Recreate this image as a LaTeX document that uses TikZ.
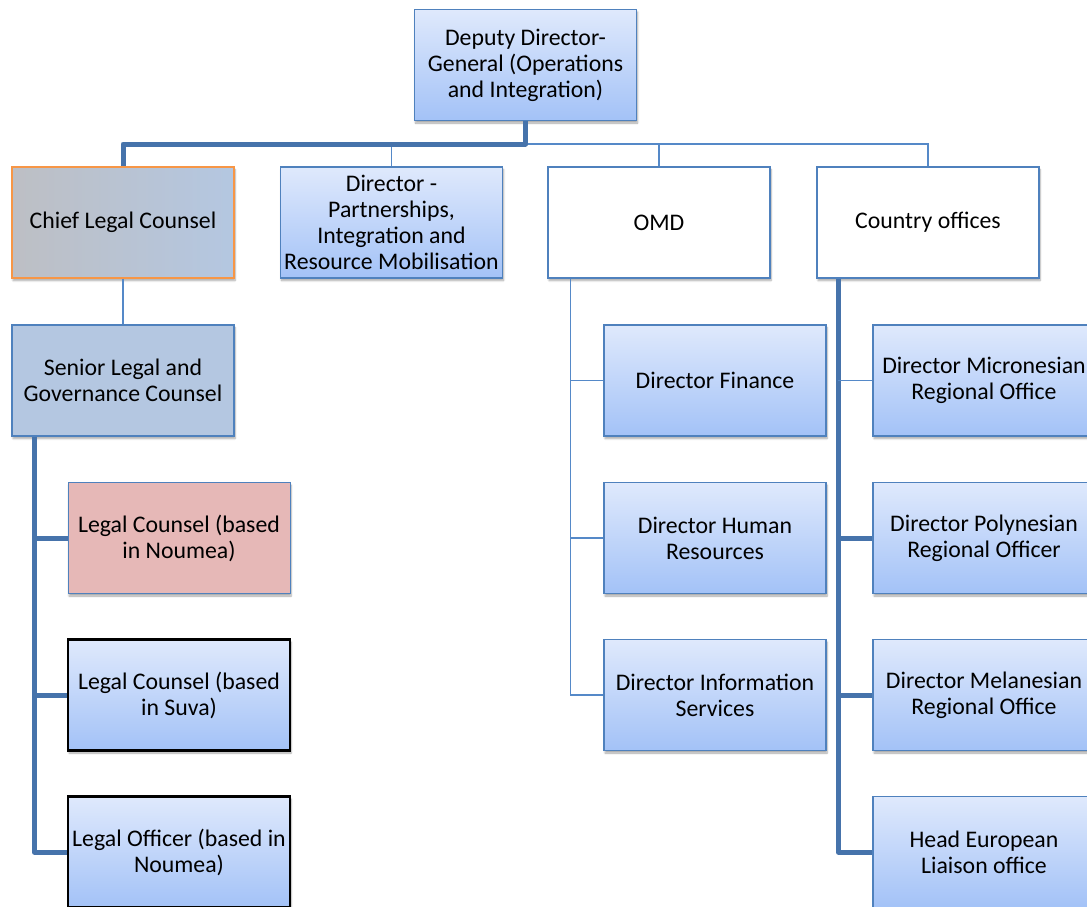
\documentclass[tikz,border=0pt]{standalone}
\usepackage{fontspec}
\setmainfont{Carlito}
\usetikzlibrary{shadows.blur}
\definecolor{bordblue}{HTML}{4F81BD}
\definecolor{gtop}{HTML}{DFE9FC}
\definecolor{gbot}{HTML}{A3C2F7}
\definecolor{thkcol}{HTML}{4673AB}
\definecolor{thncol}{HTML}{5589C8}
\definecolor{orangeb}{HTML}{F79646}
\definecolor{pinkf}{HTML}{E6B8B7}
\definecolor{steelf}{HTML}{B4C7E1}
\definecolor{grayf}{HTML}{BDBFC4}
\begin{document}
\begin{tikzpicture}[x=1pt,y=-1pt,
  box/.style={rectangle, minimum width=222pt, minimum height=111pt, align=center,
    font=\fontsize{23.8}{26}\selectfont, inner sep=0pt,
    blur shadow={shadow blur steps=6, shadow xshift=1pt, shadow yshift=-2.5pt, shadow opacity=35}},
  gbox/.style={box, draw=bordblue, line width=1.5pt, top color=gtop, bottom color=gbot},
  kbox/.style={box, draw=black, line width=2.5pt, top color=gtop, bottom color=gbot},
  wbox/.style={box, draw=bordblue, line width=1.5pt, fill=white},
  thk/.style={draw=thkcol, line width=5pt, line join=round},
  thn/.style={draw=thncol, line width=1.5pt}]
\useasboundingbox (0,0) rectangle (1087,907);
\clip (0,0) rectangle (1087,907);

% nodes
\node[gbox] (dd) at (525.5,65) {Deputy Director-\\General (Operations\\and Integration)};
\node[box, draw=orangeb, line width=1.5pt, left color=grayf, right color=steelf] (clc) at (123,222.5) {Chief Legal Counsel};
\node[gbox] (pim) at (391.5,222.5) {Director -\\Partnerships,\\Integration and\\Resource Mobilisation};
\node[wbox] (omd) at (659,222.5) {OMD};
\node[wbox] (co) at (928,222.5) {Country offices};
\node[box, draw=bordblue, line width=1.5pt, fill=steelf] (slg) at (123,380.5) {Senior Legal and\\Governance Counsel};
\node[box, draw=bordblue, line width=1pt, fill=pinkf] (lcn) at (179,538) {Legal Counsel (based\\in Noumea)};
\node[kbox] (lcs) at (179,695) {Legal Counsel (based\\in Suva)};
\node[kbox] (lon) at (179,852) {Legal Officer (based in\\Noumea)};
\node[gbox] (dfi) at (715,380.5) {Director Finance};
\node[gbox] (dhr) at (715,538) {Director Human\\Resources};
\node[gbox] (dis) at (715,695) {Director Information\\Services};
\node[gbox] (dmi) at (984,380.5) {Director Micronesian\\Regional Office};
\node[gbox] (dpo) at (984,538) {Director Polynesian\\Regional Officer};
\node[gbox] (dme) at (984,695) {Director Melanesian\\Regional Office};
\node[gbox] (heu) at (984,852) {Head European\\Liaison office};

% connectors
\coordinate (j) at (525.5,144);
\draw[thn] (j) -| (pim.north);
\draw[thn] (j) -| (omd.north);
\draw[thn] (j) -| (co.north);
\draw[thk] (dd.south) -- (j) -| (clc.north);
\draw[thn] (clc.south) -- (slg.north);

\coordinate (ls) at ([xshift=23pt]slg.south west);
\draw[thk] (ls) |- (lon.west);
\draw[thk] (ls |- lcn.west) -- (lcn.west);
\draw[thk] (ls |- lcs.west) -- (lcs.west);

\coordinate (os) at ([xshift=23pt]omd.south west);
\draw[thn] (os) |- (dis.west);
\draw[thn] (os |- dfi.west) -- (dfi.west);
\draw[thn] (os |- dhr.west) -- (dhr.west);

\coordinate (cs) at ([xshift=22pt]co.south west);
\draw[thk] (cs) |- (heu.west);
\draw[thn] (cs |- dmi.west) -- (dmi.west);
\draw[thk] (cs |- dpo.west) -- (dpo.west);
\draw[thk] (cs |- dme.west) -- (dme.west);
\end{tikzpicture}
\end{document}
